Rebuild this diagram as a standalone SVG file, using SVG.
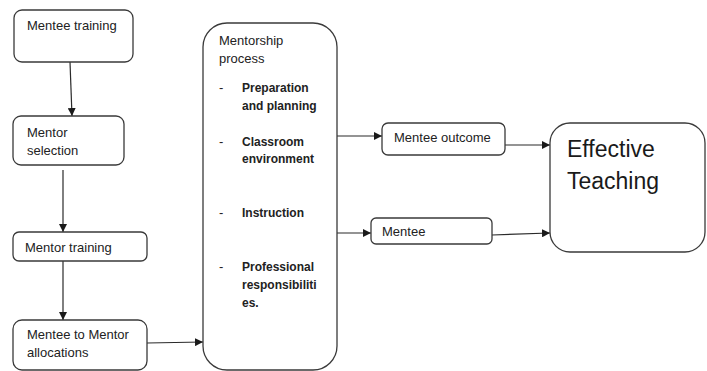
<svg xmlns="http://www.w3.org/2000/svg" width="707" height="371" viewBox="0 0 707 371">
<style>
.box{fill:#fff;stroke:#3a3a3a;stroke-width:1.3}
.t{font-family:"Liberation Sans",Arial,sans-serif;font-size:13px;fill:#222}
.b{font-family:"Liberation Sans",Arial,sans-serif;font-size:12px;font-weight:bold;fill:#222}
.big{font-family:"Liberation Sans",Arial,sans-serif;font-size:23px;fill:#1a1a1a}
.c{fill:none;stroke:#2a2a2a;stroke-width:1.2}
</style>
<defs>
<marker id="ah" markerUnits="userSpaceOnUse" markerWidth="9" markerHeight="8" refX="8" refY="4" orient="auto">
<path d="M0,0 L8,4 L0,8 Z" fill="#1a1a1a"/>
</marker>
</defs>
<rect width="707" height="371" fill="#fff"/>
<g id="connectors">
<line class="c" x1="70" y1="62" x2="72" y2="116" marker-end="url(#ah)"/>
<line class="c" x1="63" y1="170" x2="63" y2="232" marker-end="url(#ah)"/>
<line class="c" x1="63" y1="261" x2="63" y2="320" marker-end="url(#ah)"/>
<line class="c" x1="147" y1="343" x2="203" y2="342" marker-end="url(#ah)"/>
<line class="c" x1="328" y1="136" x2="382" y2="136" marker-end="url(#ah)"/>
<line class="c" x1="328" y1="233" x2="371" y2="233" marker-end="url(#ah)"/>
<line class="c" x1="505" y1="145" x2="550" y2="145" marker-end="url(#ah)"/>
<line class="c" x1="492" y1="235" x2="550" y2="233" marker-end="url(#ah)"/>
</g>
<g id="mentee-training">
<rect class="box" x="14" y="10" width="119" height="52" rx="8"/>
<text class="t" x="27" y="30">Mentee training</text>
</g>
<g id="mentor-selection">
<rect class="box" x="13" y="116" width="111" height="49" rx="8"/>
<text class="t" x="27" y="137">Mentor</text>
<text class="t" x="27" y="155">selection</text>
</g>
<g id="mentor-training">
<rect class="box" x="13" y="232" width="134" height="29" rx="6"/>
<text class="t" x="25" y="252">Mentor training</text>
</g>
<g id="mentee-to-mentor">
<rect class="box" x="13" y="320" width="134" height="50" rx="9"/>
<text class="t" x="27" y="339">Mentee to Mentor</text>
<text class="t" x="27" y="357">allocations</text>
</g>
<g id="mentorship-process">
<rect class="box" x="203" y="23" width="134" height="347" rx="24"/>
<text class="t" x="219" y="45">Mentorship</text>
<text class="t" x="219" y="63">process</text>
<text class="t" x="219" y="92">-</text>
<text class="b" x="242" y="92">Preparation</text>
<text class="b" x="242" y="110">and planning</text>
<text class="t" x="219" y="146">-</text>
<text class="b" x="242" y="146">Classroom</text>
<text class="b" x="242" y="163">environment</text>
<text class="t" x="219" y="217">-</text>
<text class="b" x="242" y="217">Instruction</text>
<text class="t" x="219" y="271">-</text>
<text class="b" x="242" y="271">Professional</text>
<text class="b" x="242" y="289">responsibiliti</text>
<text class="b" x="242" y="307">es.</text>
</g>
<g id="mentee-outcome">
<rect class="box" x="382" y="123" width="123" height="32" rx="6"/>
<text class="t" x="394" y="142">Mentee outcome</text>
</g>
<g id="mentee">
<rect class="box" x="371" y="218" width="121" height="26" rx="5"/>
<text class="t" x="382" y="236">Mentee</text>
</g>
<g id="effective-teaching">
<rect class="box" x="550" y="123" width="155" height="129" rx="20"/>
<text class="big" x="567" y="157">Effective</text>
<text class="big" x="567" y="189">Teaching</text>
</g>
</svg>
